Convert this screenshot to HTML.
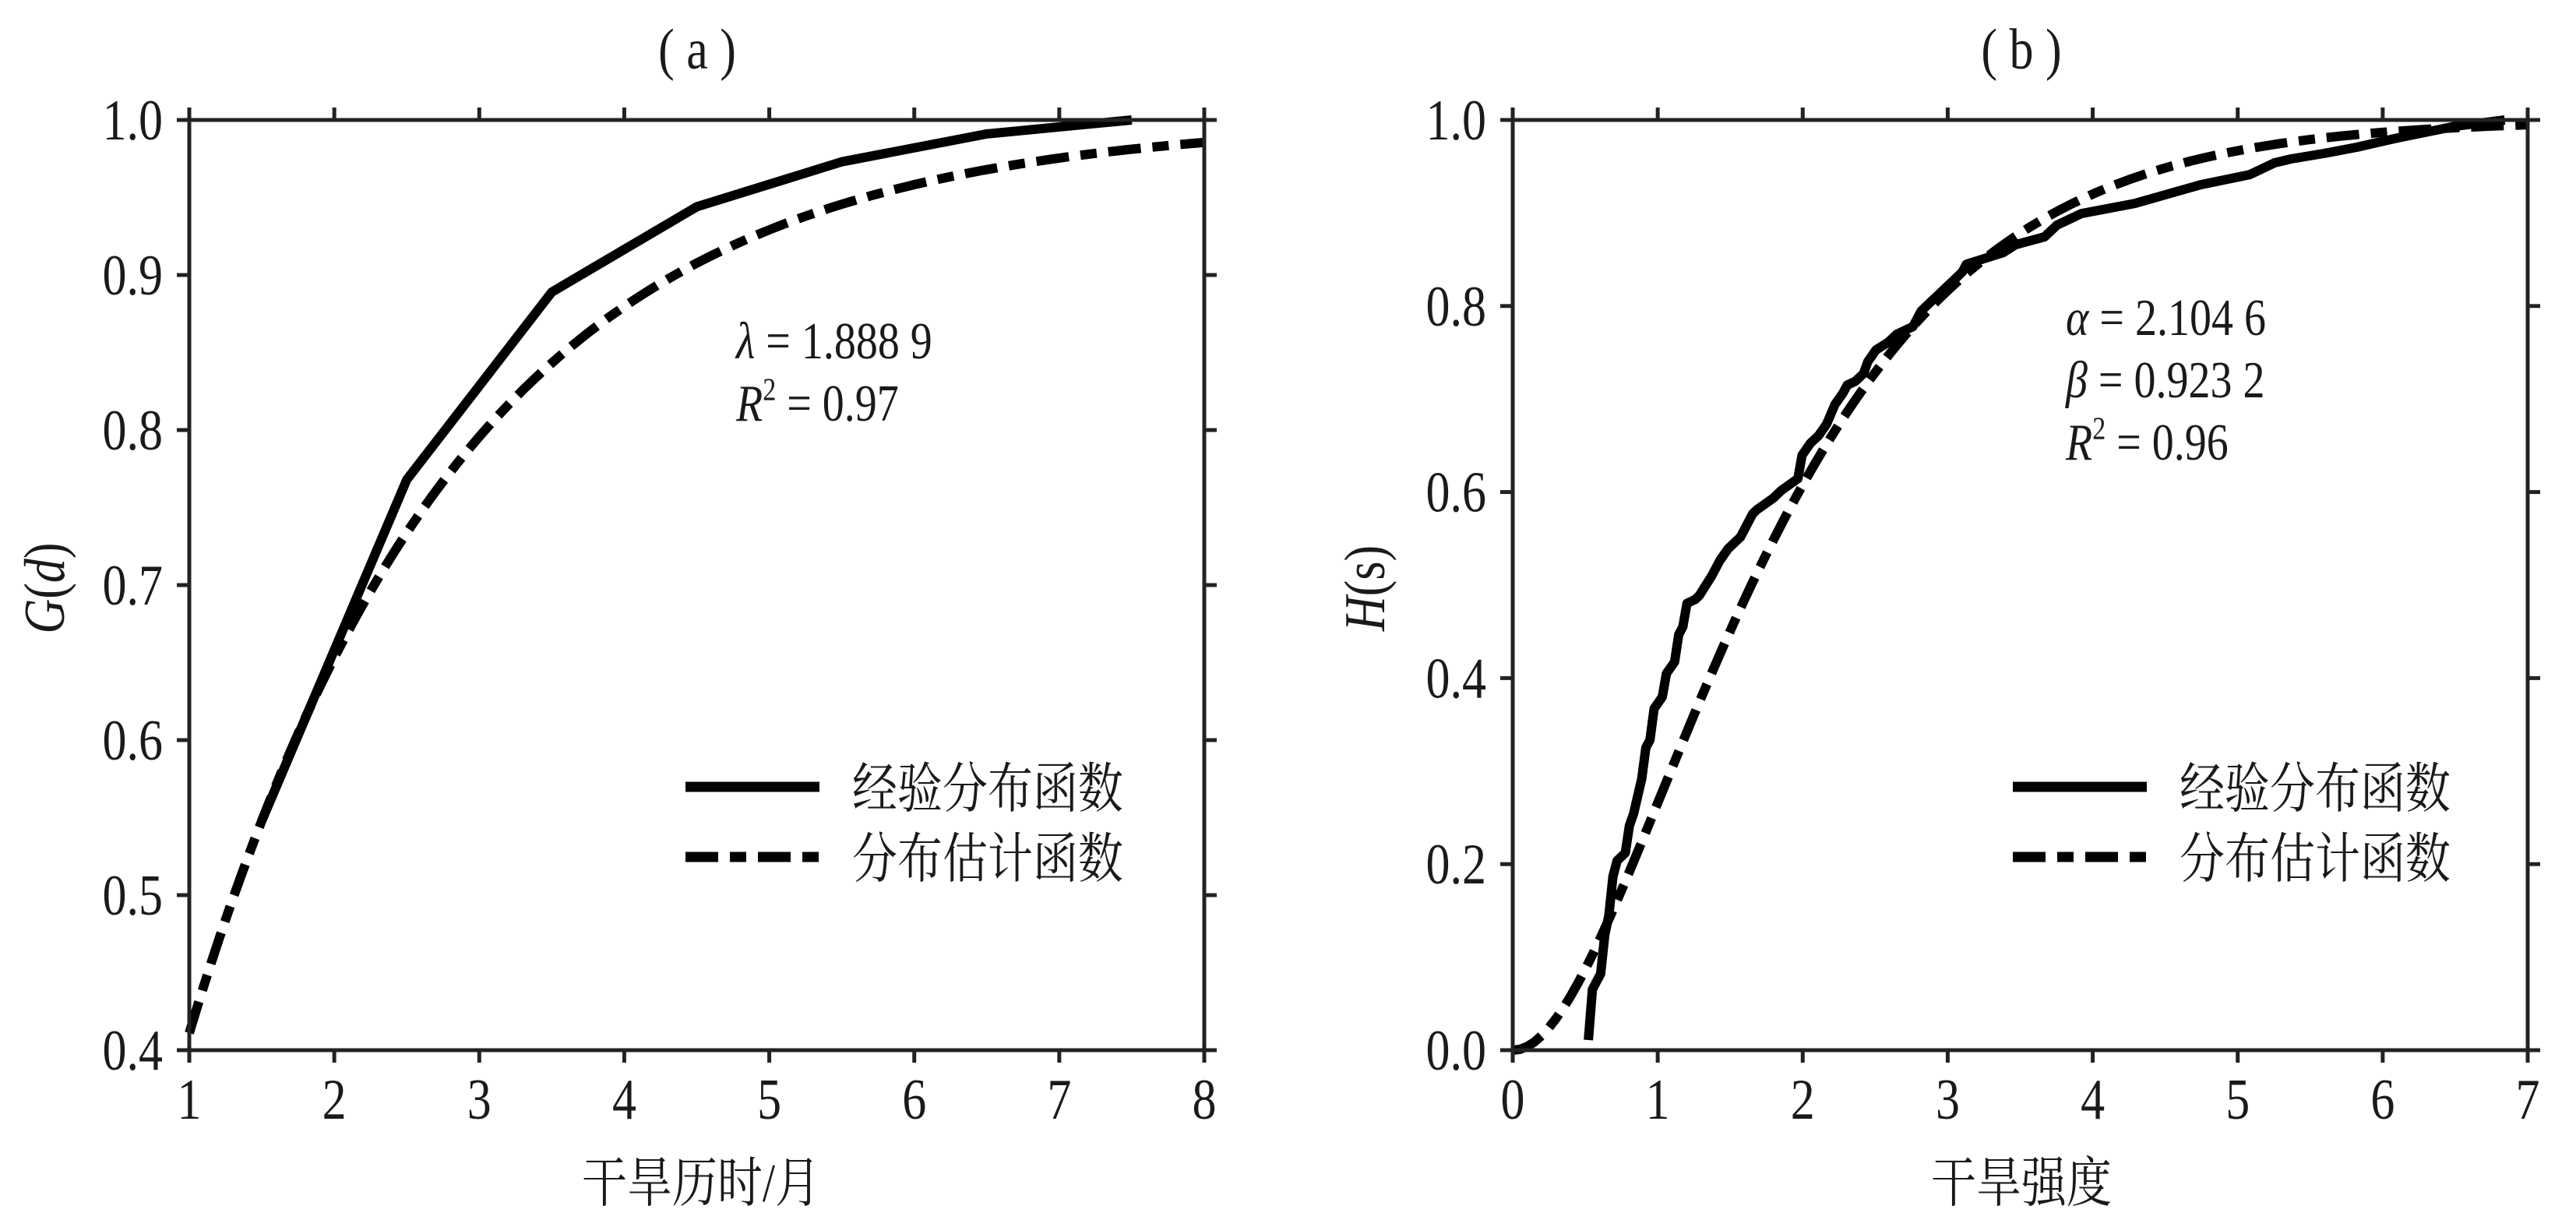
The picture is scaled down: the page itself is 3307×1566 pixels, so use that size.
<!DOCTYPE html>
<html><head><meta charset="utf-8"><style>
html,body{margin:0;padding:0;background:#fff;}
svg{display:block;}
text{fill:#1a1a1a;}
.t{font-family:"Liberation Serif","Noto Serif CJK SC",serif;font-size:62px;}
.c{font-family:"Liberation Serif","Noto Serif CJK SC",serif;font-size:58px;}
.a{font-family:"Liberation Serif",serif;font-size:56px;}
</style></head><body>
<svg id="s" width="3307" height="1566" xmlns="http://www.w3.org/2000/svg">
<g id="g"></g>
<text class="t" x="895" y="88" text-anchor="middle">( a )</text>
<text class="t" x="2595" y="88" text-anchor="middle">( b )</text>
<text class="c" x="900" y="1542" text-anchor="middle">干旱历时/月</text>
<text class="c" x="2595" y="1542" text-anchor="middle">干旱强度</text>
<text class="t" data-r="1" x="82" y="755" text-anchor="middle"><tspan font-style="italic">G</tspan>(<tspan font-style="italic">d</tspan>)</text>
<text class="t" data-r="1" x="1777" y="755" text-anchor="middle"><tspan font-style="italic">H</tspan>(s)</text>
<text class="a" x="945" y="460"><tspan font-style="italic">λ</tspan> = 1.888 9</text>
<text class="a" x="945" y="540"><tspan font-style="italic">R</tspan><tspan font-size="34" dy="-22">2</tspan><tspan dy="22"> = 0.97</tspan></text>
<text class="a" x="2652" y="430"><tspan font-style="italic">α</tspan> = 2.104 6</text>
<text class="a" x="2652" y="510"><tspan font-style="italic">β</tspan> = 0.923 2</text>
<text class="a" x="2652" y="590"><tspan font-style="italic">R</tspan><tspan font-size="34" dy="-22">2</tspan><tspan dy="22"> = 0.96</tspan></text>
<line x1="880" y1="1010" x2="1052" y2="1010" stroke="#000" stroke-width="13"/>
<line x1="880" y1="1100" x2="1052" y2="1100" stroke="#000" stroke-width="13" stroke-dasharray="42 15 21 15"/>
<text class="c" x="1094" y="1036">经验分布函数</text>
<text class="c" x="1094" y="1126">分布估计函数</text>
<line x1="2584" y1="1010" x2="2756" y2="1010" stroke="#000" stroke-width="13"/>
<line x1="2584" y1="1100" x2="2756" y2="1100" stroke="#000" stroke-width="13" stroke-dasharray="42 15 21 15"/>
<text class="c" x="2798" y="1036">经验分布函数</text>
<text class="c" x="2798" y="1126">分布估计函数</text>
</svg>
<script>
var NS="http://www.w3.org/2000/svg",G=document.getElementById('g'),S=document.getElementById('s');
function el(t,a,p){var e=document.createElementNS(NS,t);for(var k in a)e.setAttribute(k,a[k]);(p||G).appendChild(e);return e;}
function panel(L,T,R,B,x0,x1,y0,y1,xt,yt,series){
  var fx=function(v){return L+(v-x0)/(x1-x0)*(R-L)},fy=function(v){return B-(v-y0)/(y1-y0)*(B-T)};
  series.forEach(function(s){
    var d=s.pts.map(function(p,i){return (i?'L':'M')+fx(p[0]).toFixed(1)+' '+fy(p[1]).toFixed(1)}).join('');
    el('path',{d:d,fill:'none',stroke:'#000','stroke-width':12,'stroke-linejoin':'round','stroke-dasharray':s.dash||'none'});
  });
  el('rect',{x:L,y:T,width:R-L,height:B-T,fill:'none',stroke:'#222','stroke-width':5});
  xt.forEach(function(v){var x=fx(v);
    el('line',{x1:x,y1:B,x2:x,y2:B+16,stroke:'#222','stroke-width':5});
    el('line',{x1:x,y1:T,x2:x,y2:T-16,stroke:'#222','stroke-width':5});
    var t=el('text',{x:x,y:1436,'text-anchor':'middle','class':'t'},S);t.textContent=v;});
  yt.forEach(function(v){var y=fy(v);
    el('line',{x1:L,y1:y,x2:L-16,y2:y,stroke:'#222','stroke-width':5});
    el('line',{x1:R,y1:y,x2:R+16,y2:y,stroke:'#222','stroke-width':5});
    var t=el('text',{x:L-34,y:y+25,'text-anchor':'end','class':'t'},S);t.textContent=v.toFixed(1);});
}
var fitA=[];for(var d=1;d<=8.0001;d+=0.05)fitA.push([d,1-Math.exp(-d/1.8889)]);
var empA=[[1.5,0.548],[2.5,0.768],[3.5,0.889],[4.5,0.944],[5.5,0.973],[6.5,0.991],[7.5,1.0]];
panel(243,154,1546,1348,1,8,0.4,1.0,[1,2,3,4,5,6,7,8],[0.4,0.5,0.6,0.7,0.8,0.9,1.0],
 [{pts:empA},{pts:fitA,dash:'42 15 21 15'}]);
function lgamma(z){var c=[76.18009172947146,-86.50532032941677,24.01409824083091,-1.231739572450155,0.1208650973866179e-2,-0.5395239384953e-5];var x=z,y=z,t=x+5.5;t-=(x+0.5)*Math.log(t);var s=1.000000000190015;for(var j=0;j<6;j++)s+=c[j]/++y;return -t+Math.log(2.5066282746310005*s/x);}
function P(a,x){if(x<=0)return 0;var sum=1/a,del=sum,ap=a;for(var n=0;n<300;n++){ap++;del*=x/ap;sum+=del;}return sum*Math.exp(-x+a*Math.log(x)-lgamma(a));}
var fitB=[];for(var s=0;s<=7.0001;s+=0.05)fitB.push([s,P(2.1046,s/0.9232)]);
var raw=[[365,1335],[370,1270],[380,1250],[385,1200],[390,1175],[395,1125],[400,1105],[410,1095],[415,1060],[420,1045],[430,1000],[435,960],[440,950],[445,910],[455,895],[460,865],[470,850],[475,815],[480,805],[485,775],[495,770],[500,765],[515,740],[525,720],[535,705],[550,690],[560,670],[565,660],[570,655],[590,640],[600,630],[620,615],[625,585],[635,570],[645,560],[655,545],[665,520],[675,505],[680,495],[690,490],[700,480],[705,465],[715,450],[730,440],[740,430],[760,420],[770,400],[780,390],[790,380],[800,370],[810,360],[820,350],[825,340],[840,335],[870,325],[885,315],[920,305],[935,290],[965,275],[1030,262],[1070,250],[1110,238],[1170,225],[1200,210],[1220,205],[1260,198],[1300,190],[1350,178],[1420,163],[1480,155]];
var empB=raw.map(function(p){return [(p[0]-273)/(1508-273)*7,(1348-p[1])/1193]});
panel(1942,154,3245,1348,0,7,0,1,[0,1,2,3,4,5,6,7],[0,0.2,0.4,0.6,0.8,1.0],
 [{pts:empB},{pts:fitB,dash:'42 15 21 15'}]);
// vertical stretch of all text
Array.prototype.forEach.call(S.querySelectorAll('text'),function(t){
  var x=t.getAttribute('x'),y=t.getAttribute('y');
  t.setAttribute('x',0);t.setAttribute('y',0);
  if(t.getAttribute('data-r')){t.removeAttribute('data-r');t.setAttribute('transform','translate('+x+' '+y+') rotate(-90) scale(1 1.2)');}
  else t.setAttribute('transform','translate('+x+' '+y+') scale(1 1.2)');
});
</script>
</body></html>
